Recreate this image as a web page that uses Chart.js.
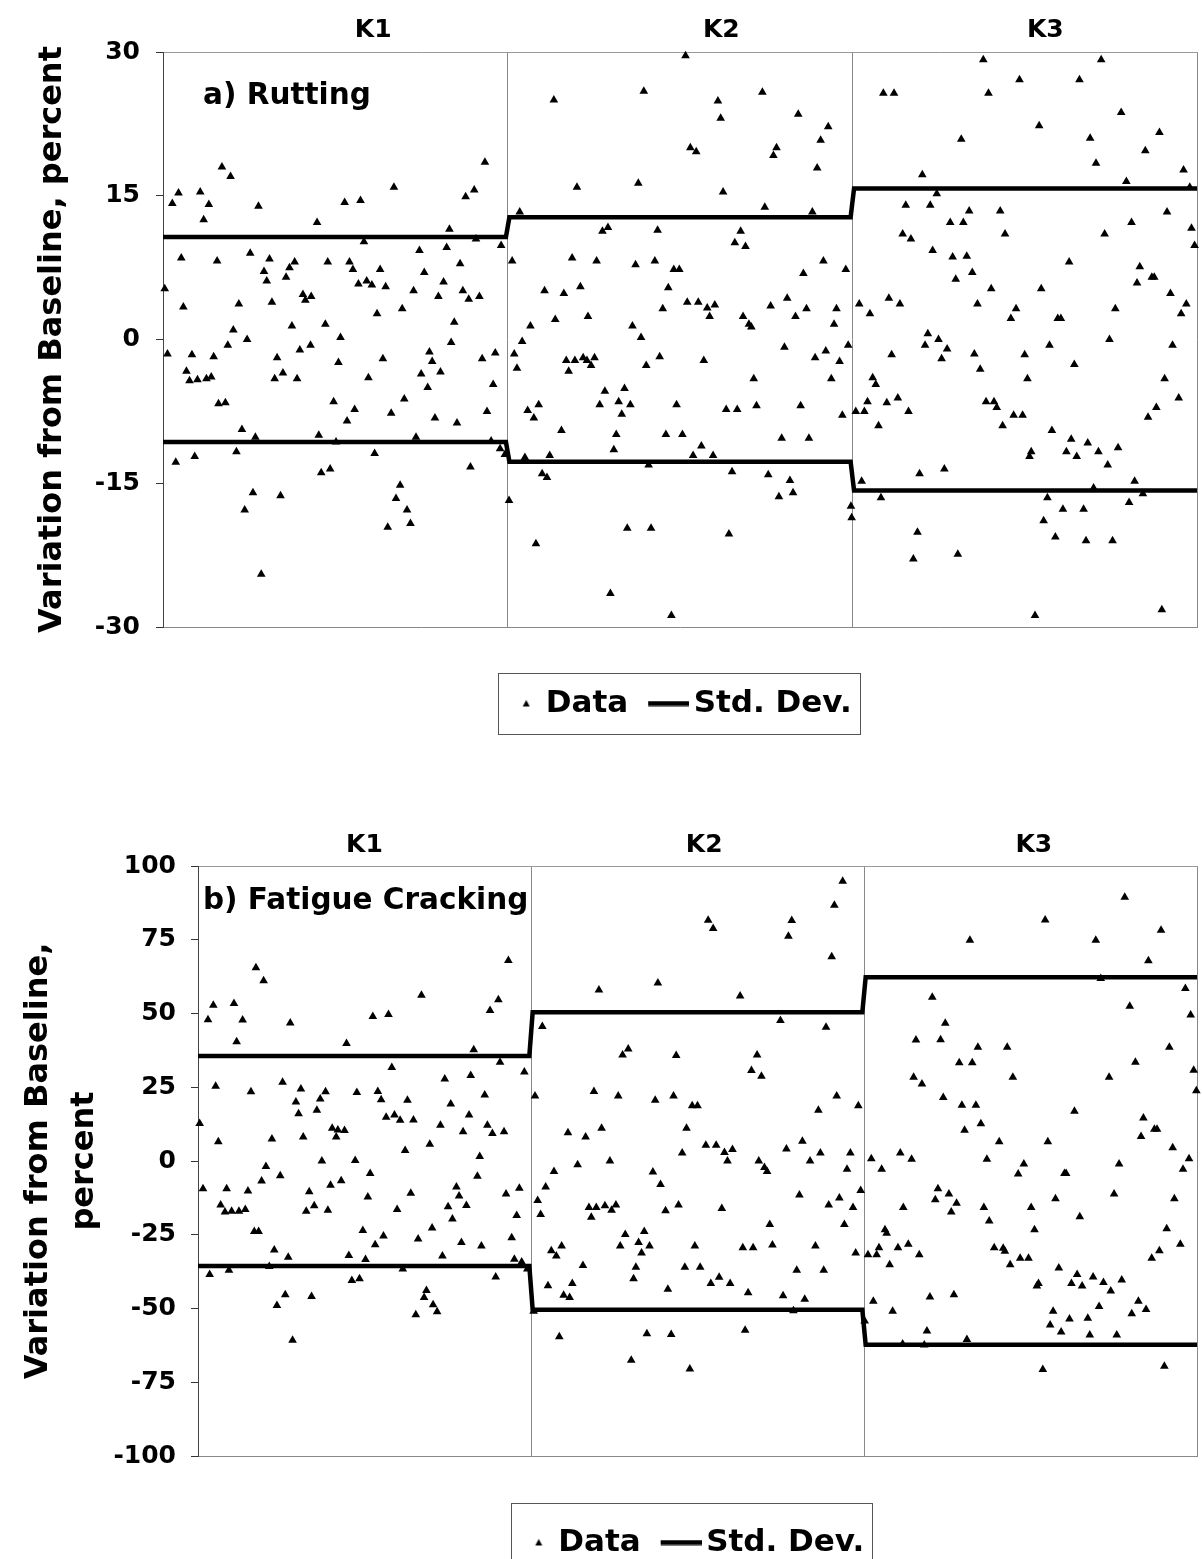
<!DOCTYPE html>
<html>
<head>
<meta charset="utf-8">
<script src="https://cdn.jsdelivr.net/npm/chart.js@4.4.1/dist/chart.umd.min.js"></script>
<style>
  html, body { margin: 0; padding: 0; background: #fff; overflow: hidden; }
  #rutting { position: absolute; left: 0; top: 0; }
  #fatigue { position: absolute; left: 0; top: 780px; }
</style>
</head>
<body>
<canvas id="rutting" width="1202" height="760"></canvas>
<canvas id="fatigue" width="1202" height="788"></canvas>
<script>
const sections = ['K1', 'K2', 'K3'];
const seriesNames = ['Data', 'Std. Dev.'];

const rutTicks = [-30, -15, 0, 15, 30];
const fatTicks = [-100, -75, -50, -25, 0, 25, 50, 75, 100];

// std dev per section (plus / minus)
const rutStd = [10.7, 12.75, 15.75];
const fatStd = [35.6, 50.4, 62.3];

// [sample position, variation %]
const rutK1 = [[0.5,5.3],[1.3,-1.5],[2.7,14.2],[3.7,-12.8],[4.5,15.3],[5.3,8.5],[5.9,3.4],[6.8,-3.3],[7.7,-4.3],[8.4,-1.6],[9.2,-12.2],[10.0,-4.2],[10.8,15.4],[11.8,12.5],[12.6,-4.1],[13.3,14.1],[14.0,-3.9],[14.7,-1.8],[15.7,8.2],[16.1,-6.7],[17.1,18.0],[18.1,-6.6],[18.8,-0.6],[19.6,17.0],[20.4,1.0],[21.3,-11.7],[22.0,3.7],[22.9,-9.4],[23.7,-17.8],[24.4,0.0],[25.3,9.0],[26.1,-16.0],[26.8,-10.2],[27.7,13.9],[28.5,-24.5],[29.3,7.1],[30.1,6.1],[30.9,8.4],[31.6,3.9],[32.4,-4.1],[33.1,-1.9],[34.1,-16.3],[34.8,-3.5],[35.7,6.5],[36.7,7.5],[37.4,1.4],[38.2,8.1],[38.9,-4.1],[39.7,-1.1],[40.6,4.7],[41.3,4.1],[42.8,-0.6],[43.0,4.5],[44.7,12.2],[45.2,-10.0],[45.9,-13.9],[47.1,1.6],[47.8,8.1],[48.5,-13.5],[49.5,-6.5],[50.2,-10.7],[50.9,-2.4],[51.5,0.2],[52.7,14.3],[53.4,-8.5],[54.1,8.1],[55.1,7.3],[55.6,-7.3],[56.7,5.8],[57.3,14.5],[58.3,10.2],[59.1,6.1],[59.6,-4.0],[60.6,5.7],[61.4,-11.9],[62.1,2.7],[63.0,7.3],[63.8,-2.0],[64.6,5.5],[65.2,-19.6],[66.2,-7.7],[67.0,15.9],[67.6,-16.6],[68.8,-15.2],[69.4,3.2],[70.0,-6.2],[70.8,-17.8],[71.8,-19.2],[72.7,5.1],[73.4,-10.2],[74.4,9.3],[74.9,-3.6],[75.8,7.0],[76.8,-5.0],[77.3,-1.3],[78.1,-2.3],[78.9,-8.2],[79.9,4.5],[80.5,-3.4],[81.4,6.0],[82.3,9.6],[83.1,11.5],[83.6,-0.3],[84.5,1.8],[85.3,-8.7],[86.2,7.9],[87.0,5.1],[87.8,14.9],[88.7,4.2],[89.2,-13.3],[90.3,15.6],[90.8,10.5],[91.8,4.5],[92.6,-2.0],[93.4,18.5],[94.0,-7.5],[95.2,-10.6],[95.8,-4.7],[96.4,-1.4],[97.8,-11.4],[98.1,9.8],[99.2,-12.0]];
const rutK2 = [[100.4,-16.8],[101.3,8.2],[101.9,-1.5],[102.7,-3.0],[103.5,13.3],[104.2,-0.2],[105.0,-12.3],[105.8,-7.4],[106.6,1.4],[107.6,-8.2],[108.2,-21.3],[109.0,-6.8],[110.0,-14.0],[110.7,5.1],[111.4,-14.4],[112.2,-12.1],[113.4,25.0],[113.8,2.1],[115.6,-9.5],[116.3,4.8],[117.0,-2.2],[117.7,-3.3],[118.7,8.5],[119.5,-2.2],[120.1,15.9],[121.1,5.5],[121.9,-1.9],[123.0,-2.2],[123.3,2.4],[124.2,-2.7],[125.2,-1.9],[125.8,8.2],[126.7,-6.8],[127.5,11.3],[128.2,-5.4],[129.1,11.7],[129.8,-26.5],[130.8,-11.5],[131.5,-9.9],[132.2,-6.5],[133.1,-7.8],[133.9,-5.1],[134.7,-19.7],[135.6,-6.8],[136.2,1.4],[137.1,7.8],[137.9,16.3],[138.7,0.2],[139.5,25.9],[140.2,-2.7],[140.9,-13.1],[141.6,-19.7],[142.7,8.2],[143.5,11.4],[144.1,-1.8],[145.0,3.2],[145.9,-9.9],[146.6,5.4],[147.5,-28.8],[148.2,7.3],[149.0,-6.8],[149.8,7.3],[150.7,-9.9],[151.6,29.6],[152.1,3.9],[153.0,20.0],[153.8,-12.1],[154.7,19.6],[155.3,3.9],[156.2,-11.1],[156.9,-2.2],[157.9,3.3],[158.6,2.4],[159.6,-12.1],[160.1,3.6],[161.0,24.9],[161.8,23.1],[162.5,15.4],[163.4,-7.3],[164.2,-20.3],[165.1,-13.8],[165.9,10.1],[166.6,-7.3],[167.6,11.3],[168.3,2.4],[169.0,9.7],[170.0,1.6],[170.7,1.3],[171.4,-4.1],[172.2,-6.9],[173.9,25.8],[174.6,13.8],[175.6,-14.1],[176.3,3.5],[177.1,19.2],[178.0,20.0],[178.7,-16.4],[179.5,-10.3],[180.3,-0.8],[181.1,4.3],[181.9,-14.7],[182.8,-16.0],[183.5,2.4],[184.3,23.5],[185.0,-6.9],[185.8,6.9],[186.7,3.2],[187.4,-10.3],[188.4,13.3],[189.2,-1.9],[189.8,17.9],[190.8,20.8],[191.6,8.2],[192.3,-1.2],[193.0,22.2],[193.9,-4.1],[194.7,1.6],[195.4,3.2],[196.3,-2.3],[197.1,-7.9],[198.1,7.3],[198.8,-0.6],[199.6,-17.4],[199.8,-18.6]];
const rutK3 = [[201.0,-7.5],[202.0,3.7],[202.7,-14.8],[203.5,-7.5],[204.4,-6.5],[205.1,2.7],[205.9,-4.0],[206.8,-4.7],[207.6,-9.0],[208.3,-16.5],[209.0,25.7],[210.0,-6.6],[210.6,4.3],[211.4,-1.6],[212.1,25.7],[213.2,-6.1],[213.8,3.7],[214.6,11.0],[215.5,14.0],[216.3,-7.5],[217.0,10.5],[217.7,-22.9],[218.9,-20.1],[219.5,-14.0],[220.3,17.2],[221.1,-0.6],[221.9,0.6],[222.6,14.0],[223.3,9.3],[224.5,15.2],[225.0,0.0],[225.9,-2.0],[226.7,-13.5],[227.5,-1.0],[228.4,12.2],[229.1,8.6],[230.0,6.3],[230.6,-22.4],[231.6,20.9],[232.2,12.2],[233.2,8.7],[233.9,13.4],[234.8,7.0],[235.4,-1.5],[236.3,3.7],[237.1,-3.1],[238.0,29.2],[238.8,-6.5],[239.5,25.7],[240.3,5.3],[241.1,-6.5],[241.9,-7.1],[242.9,13.4],[243.6,-9.0],[244.3,11.0],[246.0,2.2],[246.8,-7.9],[247.5,3.2],[248.5,27.1],[249.4,-7.9],[250.0,-1.6],[250.8,-4.1],[251.4,-12.2],[251.9,-11.7],[253.0,-28.8],[254.2,22.3],[254.8,5.3],[255.5,-18.9],[256.6,-16.5],[257.2,-0.6],[257.9,-9.5],[258.9,-20.6],[259.6,2.2],[260.5,2.2],[261.1,-17.7],[262.1,-11.7],[262.9,8.1],[263.5,-10.4],[264.4,-2.6],[265.1,-12.2],[265.9,27.1],[267.1,-17.7],[267.8,-21.0],[268.3,-10.8],[269.0,21.0],[270.0,-15.5],[270.7,18.4],[271.4,-11.7],[272.2,29.2],[273.2,11.0],[274.1,-13.1],[274.6,0.0],[275.5,-21.0],[276.3,3.2],[277.1,-11.3],[278.0,23.7],[279.5,16.5],[280.3,-17.0],[281.0,12.2],[281.9,-14.8],[282.6,5.9],[283.4,7.6],[284.3,-16.1],[285.0,19.7],[285.8,-8.1],[286.9,6.5],[287.6,6.5],[288.2,-7.1],[289.1,21.6],[289.8,-28.2],[290.6,-4.1],[291.3,13.3],[292.3,4.8],[292.9,-0.6],[294.7,-6.1],[295.4,2.7],[296.1,17.7],[296.9,3.7],[297.9,15.9],[298.4,11.6],[299.3,9.8]];

const fatK1 = [[0.5,12.7],[1.5,-9.4],[3.0,47.9],[3.5,-38.5],[4.6,52.8],[5.3,25.3],[6.1,6.5],[6.8,-14.9],[8.1,-17.3],[8.6,-9.4],[9.3,-37.0],[10.1,-17.0],[10.8,53.4],[11.6,40.4],[12.3,-17.0],[13.4,47.8],[14.2,-16.4],[15.0,-10.2],[15.9,23.5],[16.9,-23.9],[17.4,65.5],[18.2,-23.9],[19.1,-6.8],[19.7,61.1],[20.4,-1.9],[21.4,-35.8],[22.2,7.5],[22.9,-30.2],[23.7,-49.0],[24.7,-5.0],[25.4,26.7],[26.2,-45.3],[27.1,-32.6],[27.7,46.8],[28.4,-60.8],[29.4,20.0],[30.2,16.0],[30.9,24.4],[31.6,8.1],[32.5,-17.0],[33.4,-10.4],[34.1,-45.9],[34.9,-15.2],[35.7,17.2],[36.7,21.0],[37.2,0.0],[38.3,23.5],[39.0,-16.7],[39.8,-8.2],[40.3,11.1],[41.5,8.1],[42.0,10.5],[43.0,-6.7],[44.0,10.3],[44.6,39.8],[45.3,-32.0],[46.2,-40.5],[47.2,0.2],[47.7,23.2],[48.5,-39.9],[49.5,-23.6],[50.3,-33.4],[51.0,-12.2],[51.7,-4.2],[52.5,49.0],[53.2,-28.4],[54.0,23.6],[55.0,20.8],[55.7,-25.4],[56.5,14.8],[57.2,49.7],[58.2,31.7],[59.0,15.6],[59.8,-16.4],[60.7,13.8],[61.5,-36.6],[62.2,3.6],[62.9,20.6],[63.9,-10.9],[64.7,13.9],[65.4,-52.1],[66.1,-26.4],[67.1,56.2],[67.9,-46.3],[68.6,-43.9],[69.6,5.7],[70.3,-22.7],[70.6,-48.7],[71.8,-51.1],[72.8,12.1],[73.4,-32.2],[74.1,27.8],[75.1,-15.5],[75.9,19.3],[76.4,-19.7],[77.6,-8.8],[78.4,-11.9],[79.1,-27.6],[79.6,9.9],[80.6,-15.1],[81.4,15.6],[81.9,29.0],[82.8,37.7],[83.9,-5.2],[84.6,1.5],[85.1,-28.8],[86.1,22.4],[86.9,12.1],[87.7,51.0],[88.4,9.3],[89.4,-39.3],[90.2,54.7],[90.7,33.5],[91.9,9.9],[92.5,-11.2],[93.2,68.0],[94.2,-26.0],[95.0,-33.3],[95.7,-18.5],[96.5,-9.2],[97.2,-34.2],[98.0,30.2],[98.9,-36.6]];
const fatK2 = [[100.8,-50.9],[101.2,22.0],[102.0,-13.4],[102.9,-18.1],[103.4,45.6],[104.4,-8.8],[105.1,-42.3],[106.1,-30.4],[106.9,-3.6],[107.6,-32.2],[108.5,-59.6],[109.2,-28.8],[109.8,-45.5],[111.1,9.6],[111.6,-46.3],[112.4,-41.5],[114.0,-1.3],[115.6,-35.4],[116.4,8.1],[117.4,-15.8],[118.1,-19.1],[118.9,23.6],[119.6,-15.8],[120.4,58.0],[121.2,11.1],[122.2,-15.2],[123.7,0.0],[124.2,-16.7],[125.5,-14.9],[126.2,22.0],[126.8,-28.8],[127.5,35.9],[128.3,-24.9],[129.2,38.0],[130.1,-67.5],[130.8,-39.9],[131.5,-36.0],[132.3,-27.6],[133.2,-31.2],[134.0,-23.9],[134.8,-58.6],[135.6,-28.8],[136.6,-3.7],[137.3,20.6],[138.1,60.3],[138.9,-8.0],[140.4,-16.9],[141.1,-43.5],[142.1,-58.8],[142.8,22.0],[143.6,35.8],[144.3,-14.9],[145.4,2.7],[146.2,-36.0],[146.7,11.1],[147.7,-70.5],[148.4,18.7],[149.2,-28.8],[150.0,18.7],[150.8,-36.0],[152.5,5.3],[153.2,81.6],[154.0,-41.5],[154.7,78.8],[155.6,5.3],[156.5,-39.4],[157.3,-16.1],[158.1,2.9],[159.0,0.0],[159.8,-41.5],[160.5,3.9],[162.8,55.9],[163.6,-29.4],[164.3,-57.4],[165.2,-44.7],[166.2,30.7],[166.7,-29.4],[167.9,35.9],[168.4,0.0],[169.2,28.7],[170.1,-2.2],[170.9,-3.6],[171.7,-21.5],[172.5,-28.5],[174.9,47.6],[175.7,-45.7],[176.7,4.1],[177.3,76.2],[178.3,81.5],[178.8,-50.8],[179.8,-37.0],[180.6,-11.5],[181.5,6.7],[182.2,-46.9],[183.8,0.0],[185.4,-28.8],[186.3,17.2],[186.9,2.7],[187.9,-37.0],[188.6,45.3],[189.4,-14.9],[190.3,69.2],[191.1,86.7],[191.8,22.0],[192.6,-12.5],[193.6,94.8],[194.1,-21.5],[194.9,-2.8],[195.9,2.7],[196.7,-15.8],[197.5,-31.2],[198.3,18.7],[199.0,-10.0]];
const fatK3 = [[200.2,-54.2],[201.2,-31.8],[202.2,0.8],[202.8,-47.5],[203.8,-31.8],[204.5,-29.4],[205.3,-2.8],[206.3,-23.3],[206.8,-24.5],[207.7,-35.2],[208.6,-50.9],[210.2,-29.4],[210.9,2.7],[211.6,-62.0],[211.8,-15.8],[213.3,-28.2],[214.3,0.6],[214.9,28.4],[215.6,41.0],[216.6,-31.8],[217.4,26.1],[218.1,-62.4],[218.9,-57.6],[219.8,-46.1],[220.5,55.5],[221.4,-13.1],[222.2,-9.4],[223.0,41.1],[223.8,21.5],[224.4,46.7],[225.5,-11.2],[226.2,-17.3],[227.0,-45.3],[227.8,-14.3],[228.6,33.3],[229.4,18.9],[230.2,10.4],[230.9,-60.5],[231.8,74.8],[232.5,33.3],[233.6,18.9],[234.2,38.6],[235.1,12.6],[236.0,-15.8],[236.9,0.6],[237.6,-20.3],[239.1,-29.4],[240.6,6.5],[241.8,-29.6],[242.3,-30.6],[243.0,38.6],[243.9,-35.2],[244.7,28.4],[246.3,-4.4],[246.9,-33.0],[248.0,-1.0],[249.4,-33.0],[250.2,-15.8],[251.2,-23.3],[251.9,-42.4],[252.4,-41.5],[253.7,-70.7],[254.4,81.7],[255.2,6.5],[255.9,-55.6],[256.8,-50.9],[257.5,-12.8],[258.5,-36.3],[259.2,-58.0],[260.2,-4.2],[260.7,-4.2],[261.7,-53.6],[262.3,-41.5],[263.2,16.9],[264.0,-38.5],[264.8,-18.9],[265.5,-42.4],[267.2,-53.3],[267.8,-59.0],[268.8,-39.3],[269.6,74.8],[270.6,-49.3],[271.1,61.9],[271.9,-41.2],[273.6,28.4],[274.1,-44.1],[275.1,-11.2],[275.9,-59.0],[276.6,-1.0],[277.4,-40.3],[278.3,89.4],[279.8,52.5],[280.4,-51.8],[281.5,33.5],[282.4,-47.5],[283.2,8.3],[283.9,14.6],[284.7,-50.3],[285.4,67.9],[286.4,-33.0],[287.2,10.8],[288.0,10.8],[288.7,-30.4],[289.2,78.2],[290.2,-69.6],[290.9,-23.0],[291.7,38.6],[292.7,4.5],[293.2,-12.8],[295.0,-28.2],[295.8,-2.8],[296.5,58.5],[297.6,0.8],[298.1,49.5],[299.0,30.8],[299.8,23.8]];

const FONT = 'DejaVu Sans';
Chart.defaults.font.family = FONT;
Chart.defaults.color = '#000';

const SPAN = 100; // width of one K section on the x scale

function stdLine(vals, sign) {
    let pts = [];
    vals.forEach((v, i) => {
        pts.push({x: i * SPAN + (i ? 0.5 : 0), y: sign * v});
        pts.push({x: (i + 1) * SPAN - (i < vals.length - 1 ? 0.5 : 0), y: sign * v});
    });
    return pts;
}

function dataIcon() {
    const c = document.createElement('canvas');
    c.width = 40; c.height = 12;
    const g = c.getContext('2d');
    g.fillStyle = '#000';
    g.beginPath();
    g.moveTo(36, 2.5); g.lineTo(39.5, 9); g.lineTo(32.5, 9);
    g.closePath(); g.fill();
    return c;
}

function lineIcon() {
    const c = document.createElement('canvas');
    c.width = 62; c.height = 6;
    const g = c.getContext('2d');
    g.fillStyle = '#000';
    g.fillRect(21, 0.5, 41, 5);
    return c;
}

// panel caption + legend frame, and legend offset
const panelPlugin = {
    id: 'panel',
    afterLayout(chart, args, opts) {
        chart.legend.left += opts.legendShift;
        chart.legend.right += opts.legendShift;
    },
    afterDraw(chart, args, opts) {
        const ctx = chart.ctx;
        const area = chart.chartArea;
        ctx.save();
        ctx.font = 'bold ' + opts.labelSize + 'px "' + FONT + '"';
        ctx.fillStyle = '#000';
        ctx.textAlign = 'left';
        ctx.textBaseline = 'alphabetic';
        ctx.fillText(opts.label, area.left + opts.labelDx, area.top + opts.labelDy);

        const hb = chart.legend.legendHitBoxes;
        const first = hb[0], last = hb[hb.length - 1];
        const cy = first.top + first.height / 2;
        const x0 = Math.round(first.left + opts.frameL) + 0.5;
        const x1 = Math.round(last.left + last.width + opts.frameR) + 0.5;
        const y0 = Math.round(cy - opts.frameUp) + 0.5;
        const y1 = Math.round(cy + opts.frameDown) + 0.5;
        ctx.strokeStyle = '#555';
        ctx.lineWidth = 1;
        ctx.strokeRect(x0, y0, x1 - x0, y1 - y0);
        ctx.restore();
    }
};

function makeChart(id, cfg) {
    const points = [].concat(...cfg.sets).map(([x, y]) => ({x: x, y: y}));
    const edges = sections.map((s, i) => i * SPAN).concat([sections.length * SPAN]);
    const lineStyle = {
        type: 'line', borderColor: '#000', borderWidth: 4.5, pointRadius: 0,
        fill: false, showLine: true, tension: 0, clip: false
    };
    return new Chart(document.getElementById(id), {
        type: 'scatter',
        data: {
            datasets: [
                {
                    label: seriesNames[0],
                    data: points,
                    pointStyle: 'triangle',
                    pointRadius: 5,
                    pointHoverRadius: 5,
                    pointBackgroundColor: '#000',
                    pointBorderColor: '#000',
                    pointBorderWidth: 0,
                    clip: false
                },
                Object.assign({label: seriesNames[1], data: stdLine(cfg.std, 1)}, lineStyle),
                Object.assign({label: seriesNames[1], data: stdLine(cfg.std, -1)}, lineStyle)
            ]
        },
        options: {
            responsive: false,
            animation: false,
            events: [],
            layout: {padding: {left: 0, top: 0, right: cfg.rightPad, bottom: cfg.bottomPad}},
            scales: {
                x: {
                    type: 'linear', position: 'bottom', min: 0, max: edges[edges.length - 1],
                    afterBuildTicks: (s) => { s.ticks = edges.map(v => ({value: v})); },
                    afterFit: (s) => { s.height = cfg.botH; },
                    ticks: {display: false},
                    grid: {color: '#888', lineWidth: 1, drawTicks: false},
                    border: {display: true, color: '#888'}
                },
                x2: {
                    type: 'linear', position: 'top', min: 0, max: edges[edges.length - 1],
                    afterBuildTicks: (s) => { s.ticks = cfg.kPos.map(v => ({value: v})); },
                    afterFit: (s) => { s.height = cfg.topH; },
                    ticks: {
                        font: {size: 25, weight: 'bold'}, color: '#000', padding: cfg.kPad,
                        maxRotation: 0, autoSkip: false,
                        callback: (v, i) => sections[i]
                    },
                    grid: {display: false, drawTicks: false},
                    border: {display: true, color: '#999'}
                },
                y: {
                    type: 'linear', position: 'left',
                    min: cfg.yTicks[0], max: cfg.yTicks[cfg.yTicks.length - 1],
                    afterBuildTicks: (s) => { s.ticks = cfg.yTicks.map(v => ({value: v})); },
                    afterFit: (s) => { s.width = cfg.yW; },
                    ticks: {font: {size: 25, weight: 'bold'}, color: '#000', padding: cfg.tickPad},
                    grid: {drawOnChartArea: false, drawTicks: true, tickLength: 7, color: '#333'},
                    border: {display: true, color: '#444', width: 1},
                    title: {
                        display: true, text: cfg.title, color: '#000',
                        font: {size: 32, weight: 'bold', lineHeight: cfg.titleLH},
                        padding: {top: cfg.titlePad, bottom: 0}
                    }
                }
            },
            plugins: {
                tooltip: {enabled: false},
                legend: {
                    position: 'bottom',
                    labels: {
                        font: {size: 31, weight: 'bold'},
                        color: '#000',
                        usePointStyle: true,
                        pointStyleWidth: 40,
                        padding: 10,
                        generateLabels: () => [
                            {text: seriesNames[0], pointStyle: dataIcon(), fillStyle: '#000', strokeStyle: '#000', lineWidth: 0, hidden: false, datasetIndex: 0, fontColor: '#000'},
                            {text: seriesNames[1], pointStyle: lineIcon(), fillStyle: '#000', strokeStyle: '#000', lineWidth: 0, hidden: false, datasetIndex: 1, fontColor: '#000'}
                        ]
                    }
                },
                panel: {
                    label: cfg.label, labelSize: 29.5, labelDx: cfg.labelDx, labelDy: cfg.labelDy,
                    legendShift: cfg.legendShift, frameL: 8, frameR: 8,
                    frameUp: cfg.frameUp, frameDown: cfg.frameDown
                }
            }
        },
        plugins: [panelPlugin]
    });
}

makeChart('rutting', {
    sets: [rutK1, rutK2, rutK3], std: rutStd, yTicks: rutTicks,
    title: 'Variation from Baseline, percent', titlePad: 33, titleLH: 1.2,
    label: 'a) Rutting', labelDx: 40, labelDy: 52,
    yW: 163, topH: 52, botH: 51, rightPad: 2, bottomPad: 31,
    kPos: [61, 162, 256], kPad: 7, tickPad: 16,
    legendShift: 71, frameUp: 31, frameDown: 30
});

makeChart('fatigue', {
    sets: [fatK1, fatK2, fatK3], std: fatStd, yTicks: fatTicks,
    title: ['Variation from Baseline,', 'percent'], titlePad: 15, titleLH: 1.45,
    label: 'b) Fatigue Cracking', labelDx: 5, labelDy: 43,
    yW: 198, topH: 86, botH: 61, rightPad: 5, bottomPad: 0,
    kPos: [50, 152, 251], kPad: 6, tickPad: 15,
    legendShift: 85, frameUp: 40, frameDown: 30
});
</script>
</body>
</html>
